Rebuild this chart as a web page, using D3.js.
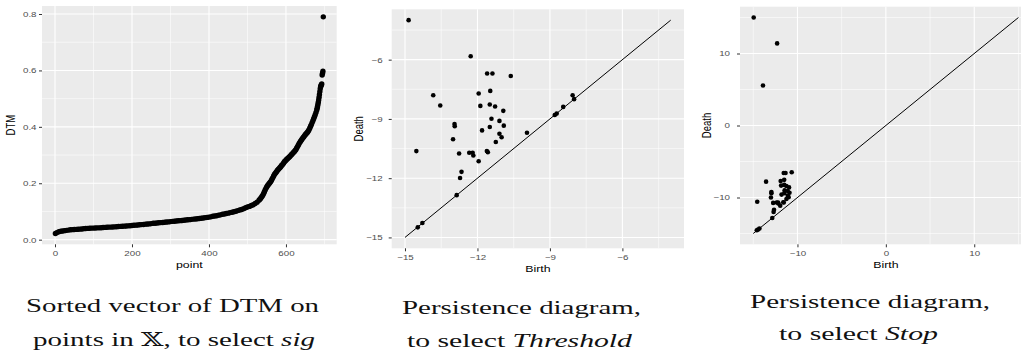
<!DOCTYPE html>
<html>
<head>
<meta charset="utf-8">
<script src="https://cdn.jsdelivr.net/npm/d3@7"></script>
<style>
body { margin: 0; background: #fff; }
</style>
</head>
<body>
<svg width="1021" height="356"></svg>
<script>
var svg = d3.select('svg');

var pointIdx = [1,5,10,15,20,25,30,35,40,45,50,55,60,65,70,75,80,85,90,95,100,
	105,110,115,120,125,130,135,140,145,150,155,160,165,170,175,180,185,190,195,200,
	205,210,215,220,225,230,235,240,245,250,255,260,265,270,275,280,285,290,295,300,
	305,310,315,320,325,330,335,340,345,350,355,360,365,370,375,380,385,390,395,400,
	405,410,415,420,425,430,435,440,445,450,455,460,465,470,475,480,485,490,495,500,
	505,510,515,520,525,530,
	532,534,536,538,540,542,544,546,548,550,552,554,556,558,560,562,564,566,568,570,
	572,574,576,578,580,582,584,586,588,590,592,594,596,598,600,602,604,606,608,610,
	612,614,616,618,620,622,624,626,628,630,632,634,636,638,640,642,644,646,648,650,
	652,654,656,658,660,662,664,666,668,670,672,674,676,678,680,
	681,682,683,684,685,686,687,688,689,690,691,692,693,694,695,696,697];
var dtmValue = [.022,.025,.028,.030,.031,.032,.033,.034,.035,.0355,.036,.0365,.037,.0375,.038,.039,.0395,.040,.0405,.041,.041,
	.0415,.042,.042,.0425,.043,.0435,.044,.0445,.0445,.045,.0455,.046,.0465,.047,.0475,.048,.0485,.049,.0495,.050,
	.051,.0515,.052,.053,.0535,.054,.055,.0555,.056,.057,.058,.058,.059,.060,.0605,.061,.062,.0625,.063,.064,
	.065,.0655,.066,.067,.0675,.068,.069,.070,.0705,.071,.072,.073,.0735,.074,.075,.076,.077,.078,.079,.080,
	.081,.083,.084,.085,.087,.088,.090,.091,.093,.094,.096,.097,.099,.101,.103,.105,.107,.110,.113,.116,
	.118,.121,.124,.128,.133,.140,
	.143,.146,.150,.154,.158,.164,.170,.176,.182,.187,.191,.195,.198,.202,.205,.210,.215,.220,.226,.231,
	.235,.238,.242,.246,.249,.252,.255,.258,.262,.265,.268,.272,.276,.279,.282,.285,.287,.290,.292,.295,
	.298,.301,.304,.307,.310,.313,.316,.320,.325,.330,.335,.340,.345,.349,.353,.357,.361,.364,.368,.372,
	.375,.378,.381,.385,.390,.396,.402,.408,.415,.422,.429,.436,.443,.451,.460,
	.466,.472,.479,.487,.495,.505,.515,.525,.535,.542,.546,.549,.552,.584,.590,.597,.790];

// persistence diagram 1 (Threshold)
var birth1 = [-14.85,-12.28,-11.60,-11.38,-10.62,-13.83,-11.95,-11.47,-13.54,-11.88,-11.49,-11.27,-10.93,-11.42,-11.09,
	-12.95,-12.94,-11.81,-11.49,-10.91,-13.01,-11.09,-11.00,-11.24,-9.95,-14.53,-12.76,-12.34,-12.20,-12.17,
	-11.61,-11.57,-11.95,-12.66,-12.72,-12.86,-14.28,-14.47,-8.80,-8.72,-8.45,-8.06,-8.00];
var death1 = [-4.00,-5.83,-6.70,-6.70,-6.83,-7.80,-7.71,-7.58,-8.32,-8.34,-8.27,-8.37,-8.59,-8.99,-9.10,
	-9.26,-9.37,-9.58,-9.41,-9.34,-10.03,-9.75,-9.93,-10.17,-9.70,-10.63,-10.75,-10.71,-10.71,-10.85,
	-10.63,-10.69,-11.14,-11.68,-11.99,-12.86,-14.27,-14.49,-8.80,-8.73,-8.39,-7.80,-8.00];
var diag1 = [-15, -4];

// persistence diagram 2 (Stop)
var birth2 = [-14.95,-12.30,-13.90,-10.65,-11.55,-11.35,-13.55,-11.90,-11.50,-11.85,-11.50,-11.25,-10.95,-11.45,-11.10,
	-12.95,-12.95,-11.80,-11.50,-10.90,-13.00,-11.10,-11.00,-11.25,-14.55,-12.75,-12.35,-12.20,-12.15,-11.60,
	-11.55,-11.95,-12.65,-12.70,-12.85,-14.30,-14.45,-14.60];
var death2 = [15.00,11.40,5.55,-6.50,-6.60,-6.60,-7.80,-7.70,-7.55,-8.35,-8.25,-8.40,-8.60,-9.00,-9.10,
	-9.25,-9.40,-9.60,-9.40,-9.35,-10.00,-9.75,-9.95,-10.20,-10.60,-10.75,-10.70,-10.70,-10.85,-10.65,
	-10.70,-11.15,-11.70,-12.00,-12.85,-14.30,-14.45,-14.55];
var diag2 = [-15, 15];

var dtmXTicks = [0, 200, 400, 600];
var dtmYTicks = [0, 0.2, 0.4, 0.6, 0.8];
var pd1Ticks = [-15, -12, -9, -6];
var pd2Ticks = [-10, 0, 10];

var sx = 1.3; // source figure is stretched sideways
var uiFont = 'Liberation Sans, Arial, sans-serif';
var texFont = 'Liberation Serif, DejaVu Serif, DejaVu Sans, serif';

function expand(lo, hi) {
	var d = (hi - lo) * 0.05;
	return [lo - d, hi + d];
}

function minorOf(ticks, dom) {
	var step = ticks[1] - ticks[0], out = [];
	for (var i = -1; i < ticks.length; i++) {
		var m = ticks[0] + step * (i + 0.5);
		if (m > dom[0] && m < dom[1]) out.push(m);
	}
	return out;
}

function drawPanel(p) {
	var x = d3.scaleLinear().domain(p.xdom).range([p.x0, p.x1]);
	var y = d3.scaleLinear().domain(p.ydom).range([p.y1, p.y0]);
	var g = svg.append('g');

	g.append('rect')
	.attr('x', p.x0).attr('y', p.y0)
	.attr('width', p.x1 - p.x0).attr('height', p.y1 - p.y0)
	.attr('fill', '#EBEBEB');

	// grid: minor then major
	[[minorOf(p.xticks, p.xdom), 0.55], [p.xticks, 1.1]].forEach(function(s){
		g.selectAll(null).data(s[0]).enter().append('line')
		.attr('x1', x).attr('x2', x)
		.attr('y1', p.y0).attr('y2', p.y1)
		.attr('stroke', '#fff').attr('stroke-width', s[1]);
	});
	[[minorOf(p.yticks, p.ydom), 0.55], [p.yticks, 1.1]].forEach(function(s){
		g.selectAll(null).data(s[0]).enter().append('line')
		.attr('y1', y).attr('y2', y)
		.attr('x1', p.x0).attr('x2', p.x1)
		.attr('stroke', '#fff').attr('stroke-width', s[1]);
	});

	var gx = g.append('g')
	.attr('transform', 'translate(0,' + p.y1 + ')')
	.call(d3.axisBottom(x).tickValues(p.xticks).tickSize(3).tickPadding(3).tickFormat(p.xfmt));
	var gy = g.append('g')
	.attr('transform', 'translate(' + p.x0 + ',0)')
	.call(d3.axisLeft(y).tickValues(p.yticks).tickSize(3).tickFormat(p.yfmt));

	[gx, gy].forEach(function(a){
		a.select('.domain').remove();
		a.attr('font-family', uiFont).attr('font-size', 7.5);
		a.selectAll('line').attr('stroke', '#333').attr('stroke-width', 1);
		a.selectAll('text').attr('fill', '#4D4D4D');
	});
	gx.selectAll('text').attr('transform', 'scale(' + sx + ',1)');
	gy.selectAll('text').attr('x', -p.ygap / sx).attr('transform', 'scale(' + sx + ',1)');

	g.append('text')
	.attr('transform', 'translate(' + ((p.x0 + p.x1) / 2) + ',' + (p.y1 + 24) + ') scale(' + sx + ',1)')
	.attr('text-anchor', 'middle')
	.attr('font-family', uiFont).attr('font-size', 9.5)
	.text(p.xtitle);

	g.append('text')
	.attr('transform', 'translate(' + (p.x0 - p.ttlGap) + ',' + ((p.y0 + p.y1) / 2) + ') rotate(-90) scale(1,' + sx + ')')
	.attr('text-anchor', 'middle')
	.attr('font-family', uiFont).attr('font-size', 9.5)
	.text(p.ytitle);

	if (p.diag) {
		g.append('path')
		.datum(p.diag)
		.attr('d', d3.line().x(function(d){ return x(d); }).y(function(d){ return y(d); }))
		.attr('stroke', '#000').attr('stroke-width', 1).attr('fill', 'none');
	}

	g.selectAll('circle')
	.data(p.xs)
	.enter()
	.append('circle')
	.attr('cx', function(d){ return x(d); })
	.attr('cy', function(d, i){ return y(p.ys[i]); })
	.attr('r', p.r)
	.attr('fill', '#000');
}

drawPanel({
	x0: 42, x1: 336.7, y0: 6, y1: 244.3,
	xdom: expand(d3.min(pointIdx), d3.max(pointIdx)),
	ydom: expand(d3.min(dtmValue), d3.max(dtmValue)),
	xticks: dtmXTicks, yticks: dtmYTicks,
	xfmt: d3.format('d'), yfmt: d3.format('.1f'),
	xtitle: 'point', ytitle: 'DTM', ygap: 5.5, ttlGap: 27,
	xs: pointIdx, ys: dtmValue, r: 2.7
});

drawPanel({
	x0: 391.7, x1: 684, y0: 9.3, y1: 248.3,
	xdom: expand(diag1[0], diag1[1]), ydom: expand(diag1[0], diag1[1]),
	xticks: pd1Ticks, yticks: pd1Ticks,
	xfmt: d3.format('d'), yfmt: d3.format('d'),
	xtitle: 'Birth', ytitle: 'Death', ygap: 9, ttlGap: 29,
	diag: diag1, xs: birth1, ys: death1, r: 2.3
});

drawPanel({
	x0: 740, x1: 1031.7, y0: 6.7, y1: 244.3,
	xdom: expand(diag2[0], diag2[1]), ydom: expand(diag2[0], diag2[1]),
	xticks: pd2Ticks, yticks: pd2Ticks,
	xfmt: d3.format('d'), yfmt: d3.format('d'),
	xtitle: 'Birth', ytitle: 'Death', ygap: 10, ttlGap: 29,
	diag: diag2, xs: birth2, ys: death2, r: 2.3
});

// captions under each panel
var captions = [
	{cx: 172.5, y: 312, w: 293, plain: 'Sorted vector of DTM on', it: ''},
	{cx: 174, y: 346, w: 282, plain: 'points in \uD835\uDD4F, to select ', it: 'sig'},
	{cx: 521.5, y: 314, w: 239, plain: 'Persistence diagram,', it: ''},
	{cx: 519.5, y: 347, w: 225, plain: 'to select ', it: 'Threshold'},
	{cx: 870, y: 307.5, w: 240, plain: 'Persistence diagram,', it: ''},
	{cx: 858.5, y: 340, w: 159, plain: 'to select ', it: 'Stop'}
];

captions.forEach(function(c){
	var t = svg.append('text')
	.attr('x', c.cx - c.w / 2).attr('y', c.y)
	.attr('textLength', c.w).attr('lengthAdjust', 'spacingAndGlyphs')
	.attr('font-family', texFont).attr('font-size', 19)
	.attr('fill', '#111');
	t.append('tspan').text(c.plain);
	if (c.it) t.append('tspan').attr('font-style', 'italic').text(c.it);
});
</script>
</body>
</html>
